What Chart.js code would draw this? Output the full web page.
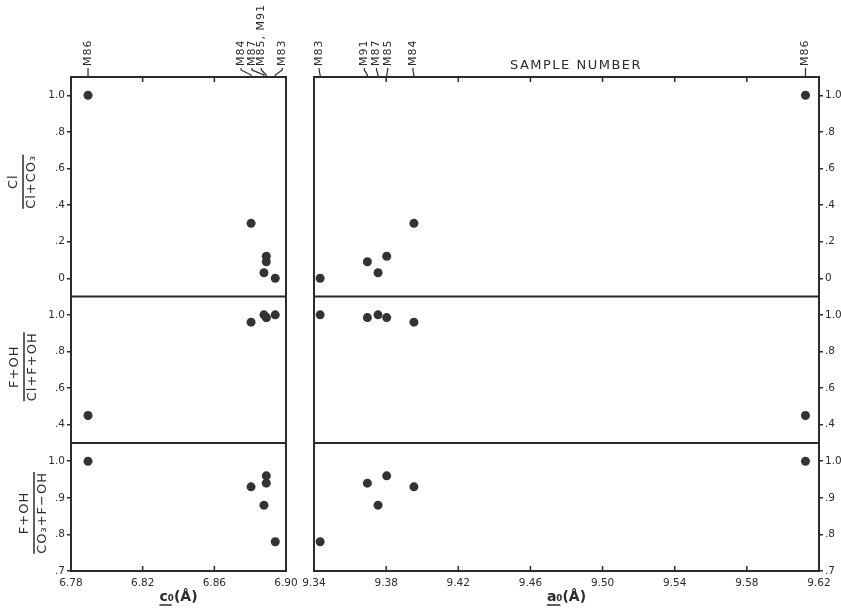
<!DOCTYPE html>
<html>
<head>
<meta charset="utf-8">
<script src="https://cdn.jsdelivr.net/npm/chart.js@4.4.1/dist/chart.umd.min.js"></script>
<style>
body { margin: 0; background: #fff; }
#wrap { position: relative; width: 841px; height: 609px; background: #fff; }
canvas { position: absolute; top: 0; }
#leftChart { left: 0; }
#rightChart { left: 300px; }
</style>
</head>
<body>
<div id="wrap">
<canvas id="leftChart" width="300" height="609"></canvas>
<canvas id="rightChart" width="541" height="609"></canvas>
</div>
<script>
// samples, their cell edges and the three ratios
const samples = ['M83', 'M84', 'M85', 'M86', 'M87', 'M91']
const cEdge = [6.894, 6.8805, 6.889, 6.7895, 6.8877, 6.889]
const aEdge = [9.3434, 9.3954, 9.3803, 9.6125, 9.3755, 9.3696]
const clRatio = [0.0, 0.30, 0.12, 1.0, 0.03, 0.09]
const fohClRatio = [1.0, 0.96, 0.985, 0.45, 1.0, 0.985]
const fohCo3Ratio = [0.78, 0.93, 0.96, 1.0, 0.88, 0.94]

const cTicks = [6.78, 6.82, 6.86, 6.90]
const aTicks = [9.34, 9.38, 9.42, 9.46, 9.50, 9.54, 9.58, 9.62]
const clTicks = [0, 0.2, 0.4, 0.6, 0.8, 1.0]
const fohClTicks = [0.4, 0.6, 0.8, 1.0]
const fohCo3Ticks = [0.7, 0.8, 0.9, 1.0]

// sample-number labels along the top, grouped as printed
const cLabelGroups = [['M86'], ['M84'], ['M87'], ['M85', 'M91'], ['M83']]
const aLabelGroups = [['M83'], ['M91'], ['M87'], ['M85'], ['M84'], ['M86']]

const ink = '#2b2b2b'
const tickFont = { family: 'DejaVu Sans', size: 10.5 }
const yTickFont = { family: 'DejaVu Sans', size: 10.5 }

const fmtRatio = v => {
    if (v === 0) return '0'
    if (Math.abs(v - 1) < 1e-9) return '1.0'
    return v.toFixed(1).replace(/^0/, '')
}

function points(xs, ys) {
    return xs.map((x, i) => ({ x: x, y: ys[i] }))
}

function ratioAxis(pos, min, max, weight, ticks, width) {
    return {
        type: 'linear',
        position: pos,
        stack: 'ratio',
        stackWeight: weight,
        min: min,
        max: max,
        afterBuildTicks: s => { s.ticks = ticks.map(v => ({ value: v })) },
        afterFit: s => { s.width = width },
        grid: { drawOnChartArea: false, drawTicks: true, tickLength: 4, color: ink, lineWidth: 1.5 },
        border: { display: false },
        ticks: { callback: fmtRatio, color: ink, font: yTickFont, padding: 2 }
    }
}

function edgeAxis(min, max, ticks) {
    return {
        type: 'linear',
        position: 'bottom',
        min: min,
        max: max,
        afterBuildTicks: s => { s.ticks = ticks.map(v => ({ value: v })) },
        afterFit: s => {
            s.height = 38
            s.paddingLeft = 0
            s.paddingRight = 0
        },
        grid: { display: false, drawTicks: false },
        border: { display: false },
        ticks: { callback: v => v.toFixed(2), maxRotation: 0, autoSkip: false, padding: 6, color: ink, font: tickFont }
    }
}

function datasets(xs) {
    const base = { pointRadius: 4.5, pointHoverRadius: 4.5, backgroundColor: '#333', borderWidth: 0, showLine: false, clip: false }
    return [
        Object.assign({ data: points(xs, clRatio), yAxisID: 'yCl' }, base),
        Object.assign({ data: points(xs, fohClRatio), yAxisID: 'yF' }, base),
        Object.assign({ data: points(xs, fohCo3Ratio), yAxisID: 'yC' }, base)
    ]
}

const framePlugin = {
    id: 'frame',
    afterDraw(chart, args, opts) {
        const ctx = chart.ctx
        const a = chart.chartArea
        const x = chart.scales.x
        ctx.save()
        ctx.strokeStyle = ink
        ctx.fillStyle = ink
        ctx.lineWidth = 2
        ctx.strokeRect(a.left, a.top, a.width, a.height)
        ctx.beginPath()
        ;['yCl', 'yF'].forEach(id => {
            const b = chart.scales[id].bottom
            ctx.moveTo(a.left, b)
            ctx.lineTo(a.right, b)
        })
        ctx.stroke()

        // inward ticks on top and bottom edges
        ctx.lineWidth = 1.5
        ctx.beginPath()
        x.ticks.forEach(t => {
            const px = x.getPixelForValue(t.value)
            if (px - a.left < 3 || a.right - px < 3) return
            ctx.moveTo(px, a.top)
            ctx.lineTo(px, a.top + 5)
            ctx.moveTo(px, a.bottom)
            ctx.lineTo(px, a.bottom - 5)
        })
        ctx.stroke()

        // sample labels with leaders
        ctx.font = '11px "DejaVu Sans"'
        ctx.letterSpacing = '1px'
        opts.groups.forEach((g, i) => {
            const px = x.getPixelForValue(opts.xs[samples.indexOf(g[0])])
            const lx = px + opts.shifts[i]
            ctx.lineWidth = 1.2
            ctx.beginPath()
            ctx.moveTo(lx, 68)
            ctx.lineTo(lx, 70)
            ctx.lineTo(px, a.top - 2)
            ctx.lineTo(px, a.top)
            ctx.stroke()
            ctx.save()
            ctx.translate(lx, 66)
            ctx.rotate(-Math.PI / 2)
            ctx.textAlign = 'left'
            ctx.textBaseline = 'middle'
            ctx.fillText(g.join(', '), 0, 0)
            ctx.restore()
        })

        // ratio names as fractions
        ctx.font = '13px "DejaVu Sans"'
        ctx.letterSpacing = '1px'
        ;(opts.fractions || []).forEach(f => {
            const s = chart.scales[f.axis]
            ctx.save()
            ctx.translate(f.x, (s.top + s.bottom) / 2 + f.dy)
            ctx.rotate(-Math.PI / 2)
            ctx.textAlign = 'center'
            ctx.textBaseline = 'middle'
            ctx.fillText(f.num, 0, -9)
            ctx.fillText(f.den, 0, 9)
            const w = Math.max(ctx.measureText(f.num).width, ctx.measureText(f.den).width)
            ctx.lineWidth = 1.5
            ctx.beginPath()
            ctx.moveTo(-w / 2, 0)
            ctx.lineTo(w / 2, 0)
            ctx.stroke()
            ctx.restore()
        })

        // x title, first letter underlined
        ctx.font = 'bold 14px "DejaVu Sans"'
        ctx.letterSpacing = '0px'
        const cx = (a.left + a.right) / 2
        const full = ctx.measureText(opts.title).width
        const first = ctx.measureText(opts.title[0]).width
        ctx.textAlign = 'left'
        ctx.textBaseline = 'middle'
        ctx.fillText(opts.title, cx - full / 2, 597)
        ctx.lineWidth = 1.5
        ctx.beginPath()
        ctx.moveTo(cx - full / 2, 605)
        ctx.lineTo(cx - full / 2 + first + 4, 605)
        ctx.stroke()

        if (opts.header) {
            ctx.font = '13px "DejaVu Sans"'
            ctx.letterSpacing = '1.5px'
            ctx.textAlign = 'center'
            ctx.fillText(opts.header, opts.headerX, 66)
        }
        ctx.restore()
    }
}

new Chart(document.getElementById('leftChart'), {
    type: 'scatter',
    data: { datasets: datasets(cEdge) },
    options: {
        responsive: false,
        animation: false,
        layout: { padding: { top: 77, right: 14, left: 0, bottom: 0 } },
        plugins: {
            legend: { display: false },
            tooltip: { enabled: false },
            frame: {
                groups: cLabelGroups,
                xs: cEdge,
                shifts: [0, -10, -12, -5, 7],
                title: 'c₀(Å)',
                fractions: [
                    { axis: 'yCl', num: 'Cl', den: 'Cl+CO₃', x: 23, dy: -5 },
                    { axis: 'yF', num: 'F+OH', den: 'Cl+F+OH', x: 24, dy: -3 },
                    { axis: 'yC', num: 'F+OH', den: 'CO₃+F−OH', x: 34, dy: 6 }
                ]
            }
        },
        scales: {
            x: edgeAxis(6.78, 6.90, cTicks),
            // left stack is laid out last-declared on top
            yC: ratioAxis('left', 0.7, 1.05, 0.7, fohCo3Ticks, 71),
            yF: ratioAxis('left', 0.3, 1.1, 0.8, fohClTicks, 71),
            yCl: ratioAxis('left', -0.1, 1.1, 1.2, clTicks, 71)
        }
    },
    plugins: [framePlugin]
})

new Chart(document.getElementById('rightChart'), {
    type: 'scatter',
    data: { datasets: datasets(aEdge) },
    options: {
        responsive: false,
        animation: false,
        layout: { padding: { top: 77, right: 0, left: 14, bottom: 0 } },
        plugins: {
            legend: { display: false },
            tooltip: { enabled: false },
            frame: {
                groups: aLabelGroups,
                xs: aEdge,
                shifts: [-1, -3, -1.5, 1, -1, 0],
                title: 'a₀(Å)',
                header: 'SAMPLE NUMBER',
                headerX: 276
            }
        },
        scales: {
            x: edgeAxis(9.34, 9.62, aTicks),
            yCl: ratioAxis('right', -0.1, 1.1, 1.2, clTicks, 22),
            yF: ratioAxis('right', 0.3, 1.1, 0.8, fohClTicks, 22),
            yC: ratioAxis('right', 0.7, 1.05, 0.7, fohCo3Ticks, 22)
        }
    },
    plugins: [framePlugin]
})
</script>
</body>
</html>
